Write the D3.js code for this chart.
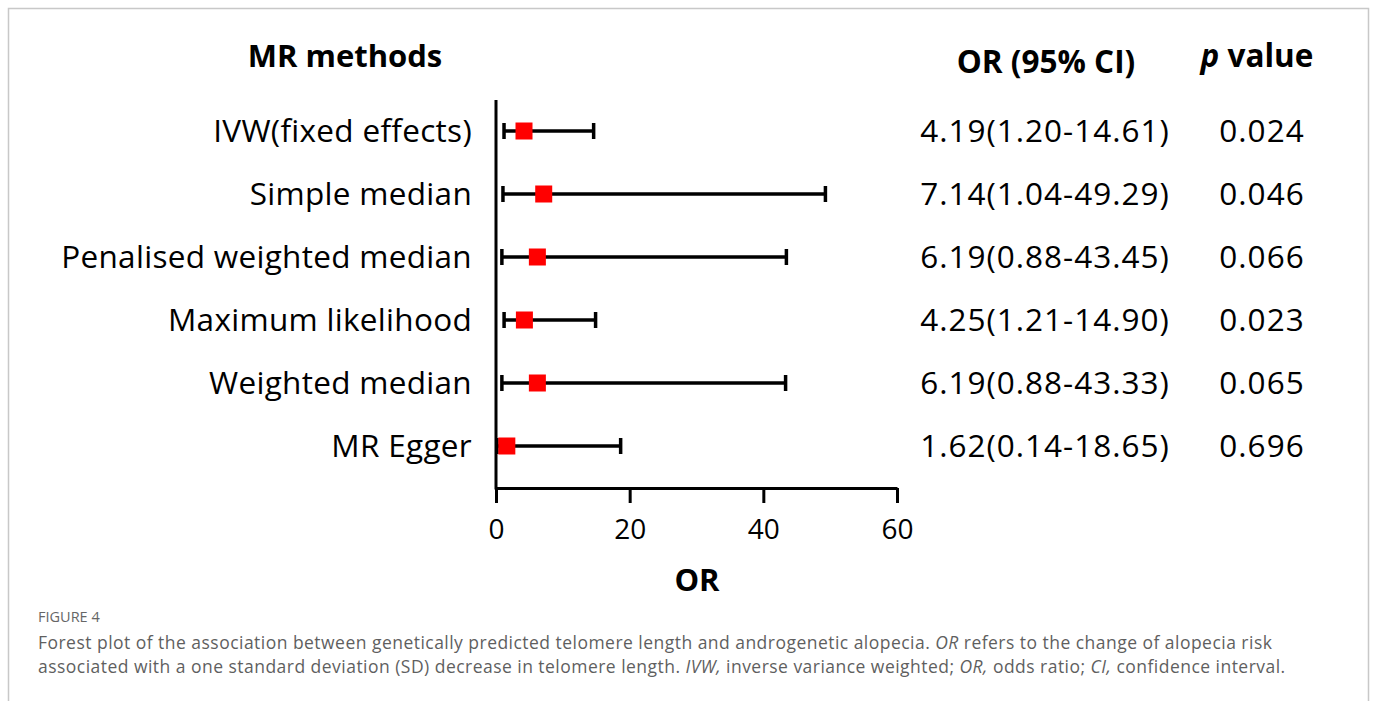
<!DOCTYPE html>
<html>
<head>
<meta charset="utf-8">
<script src="https://cdn.jsdelivr.net/npm/d3@7"></script>
<style>
  body { margin: 0; background: #fff; }
  svg { display: block; }
</style>
</head>
<body>
<script>
// Data
var methods = ["IVW(fixed effects)", "Simple median", "Penalised weighted median",
               "Maximum likelihood", "Weighted median", "MR Egger"];
var orValues = [4.19, 7.14, 6.19, 4.25, 6.19, 1.62];
var lowerCI  = [1.20, 1.04, 0.88, 1.21, 0.88, 0.14];
var upperCI  = [14.61, 49.29, 43.45, 14.90, 43.33, 18.65];
var pValues  = ["0.024", "0.046", "0.066", "0.023", "0.065", "0.696"];
var xTicks   = [0, 20, 40, 60];

var data = methods.map(function(m, i) {
    return {method: m, or: orValues[i], lo: lowerCI[i], hi: upperCI[i], p: pValues[i]};
});

var width = 1375, height = 701;
var font = "'Open Sans', sans-serif";

var svg = d3.select("body").append("svg")
    .attr("width", width).attr("height", height);

// light frame round the figure
svg.append("path")
    .attr("d", "M8.5,701 V8.5 H1368.5 V701")
    .attr("fill", "none").attr("stroke", "#c8c8c8").attr("stroke-width", 1.5);

// Scales
var x = d3.scaleLinear().domain([0, 60]).range([496, 897]);
var y = d3.scalePoint().domain(methods).range([131, 446]);
var axisTop = 100, axisBottom = 488;

// Vertical axis line
svg.append("line")
    .attr("x1", x(0)).attr("x2", x(0))
    .attr("y1", axisTop).attr("y2", axisBottom + 1.5)
    .attr("stroke", "#000").attr("stroke-width", 3);

// Bottom axis
var xAxis = d3.axisBottom(x).tickValues(xTicks).tickSize(15).tickSizeOuter(0).tickPadding(16);
var gx = svg.append("g")
    .attr("transform", "translate(0," + axisBottom + ")")
    .call(xAxis);
gx.select(".domain").attr("stroke", "#000").attr("stroke-width", 3);
gx.selectAll(".tick line").attr("stroke", "#000").attr("stroke-width", 3);
gx.selectAll(".tick text")
    .attr("font-family", font).attr("font-size", 28).attr("fill", "#000");

// Error bars
var rows = svg.append("g").selectAll("g").data(data).enter().append("g")
    .attr("transform", function(d) { return "translate(0," + y(d.method) + ")"; });

rows.append("line")
    .attr("x1", function(d) { return x(d.lo); })
    .attr("x2", function(d) { return x(d.hi); })
    .attr("stroke", "#000").attr("stroke-width", 3.5);

rows.selectAll(".cap").data(function(d) { return [d.lo, d.hi]; }).enter().append("line")
    .attr("class", "cap")
    .attr("x1", function(v) { return x(v); }).attr("x2", function(v) { return x(v); })
    .attr("y1", -8).attr("y2", 8)
    .attr("stroke", "#000").attr("stroke-width", 3.5);

var sq = 17;
rows.append("rect")
    .attr("x", function(d) { return x(d.or) - sq / 2; })
    .attr("y", -sq / 2)
    .attr("width", sq).attr("height", sq)
    .attr("fill", "#ff0000");

// Method labels
rows.append("text")
    .attr("x", 472).attr("y", 10.5)
    .attr("text-anchor", "end")
    .attr("font-family", font).attr("font-size", 31.5).attr("letter-spacing", 0.3)
    .text(function(d) { return d.method; });

// OR (95% CI) column
rows.append("text")
    .attr("x", 1045).attr("y", 10.5)
    .attr("text-anchor", "middle")
    .attr("font-family", font).attr("font-size", 31.5).attr("letter-spacing", 1)
    .text(function(d) { return d.or.toFixed(2) + "(" + d.lo.toFixed(2) + "-" + d.hi.toFixed(2) + ")"; });

// p value column
rows.append("text")
    .attr("x", 1262).attr("y", 10.5)
    .attr("text-anchor", "middle")
    .attr("font-family", font).attr("font-size", 31.5).attr("letter-spacing", 1)
    .text(function(d) { return d.p; });

// Headers
svg.append("text")
    .attr("x", 345).attr("y", 67)
    .attr("text-anchor", "middle")
    .attr("font-family", font).attr("font-size", 31).attr("font-weight", "bold")
    .text("MR methods");

svg.append("text")
    .attr("x", 1046).attr("y", 73)
    .attr("text-anchor", "middle")
    .attr("font-family", font).attr("font-size", 31.5).attr("font-weight", "bold")
    .text("OR (95% CI)");

var pHead = svg.append("text")
    .attr("x", 1257).attr("y", 67)
    .attr("text-anchor", "middle")
    .attr("font-family", font).attr("font-size", 31.5).attr("font-weight", "bold");
pHead.append("tspan").attr("font-style", "italic").text("p");
pHead.append("tspan").text(" value");

// Axis title
svg.append("text")
    .attr("x", 697).attr("y", 591)
    .attr("text-anchor", "middle")
    .attr("font-family", font).attr("font-size", 31).attr("font-weight", "bold")
    .text("OR");

// Caption
var capFont = "'Open Sans', sans-serif";
svg.append("text")
    .attr("x", 38).attr("y", 622)
    .attr("font-family", capFont).attr("font-size", 14.5).attr("fill", "#666")
    .text("FIGURE 4");

var captionLines = [
    [["Forest plot of the association between genetically predicted telomere length and androgenetic alopecia. ", false],
     ["OR", true], [" refers to the change of alopecia risk", false]],
    [["associated with a one standard deviation (SD) decrease in telomere length. ", false],
     ["IVW,", true], [" inverse variance weighted; ", false], ["OR,", true],
     [" odds ratio; ", false], ["CI,", true], [" confidence interval.", false]]
];
var capY = [649, 673];
captionLines.forEach(function(line, i) {
    var t = svg.append("text")
        .attr("x", 38).attr("y", capY[i])
        .attr("font-family", capFont).attr("font-size", 17.5).attr("fill", "#5f5f5f")
        .attr("letter-spacing", 0.47)
        .attr("xml:space", "preserve");
    line.forEach(function(part) {
        t.append("tspan")
            .attr("font-style", part[1] ? "italic" : "normal")
            .text(part[0]);
    });
});
</script>
</body>
</html>
